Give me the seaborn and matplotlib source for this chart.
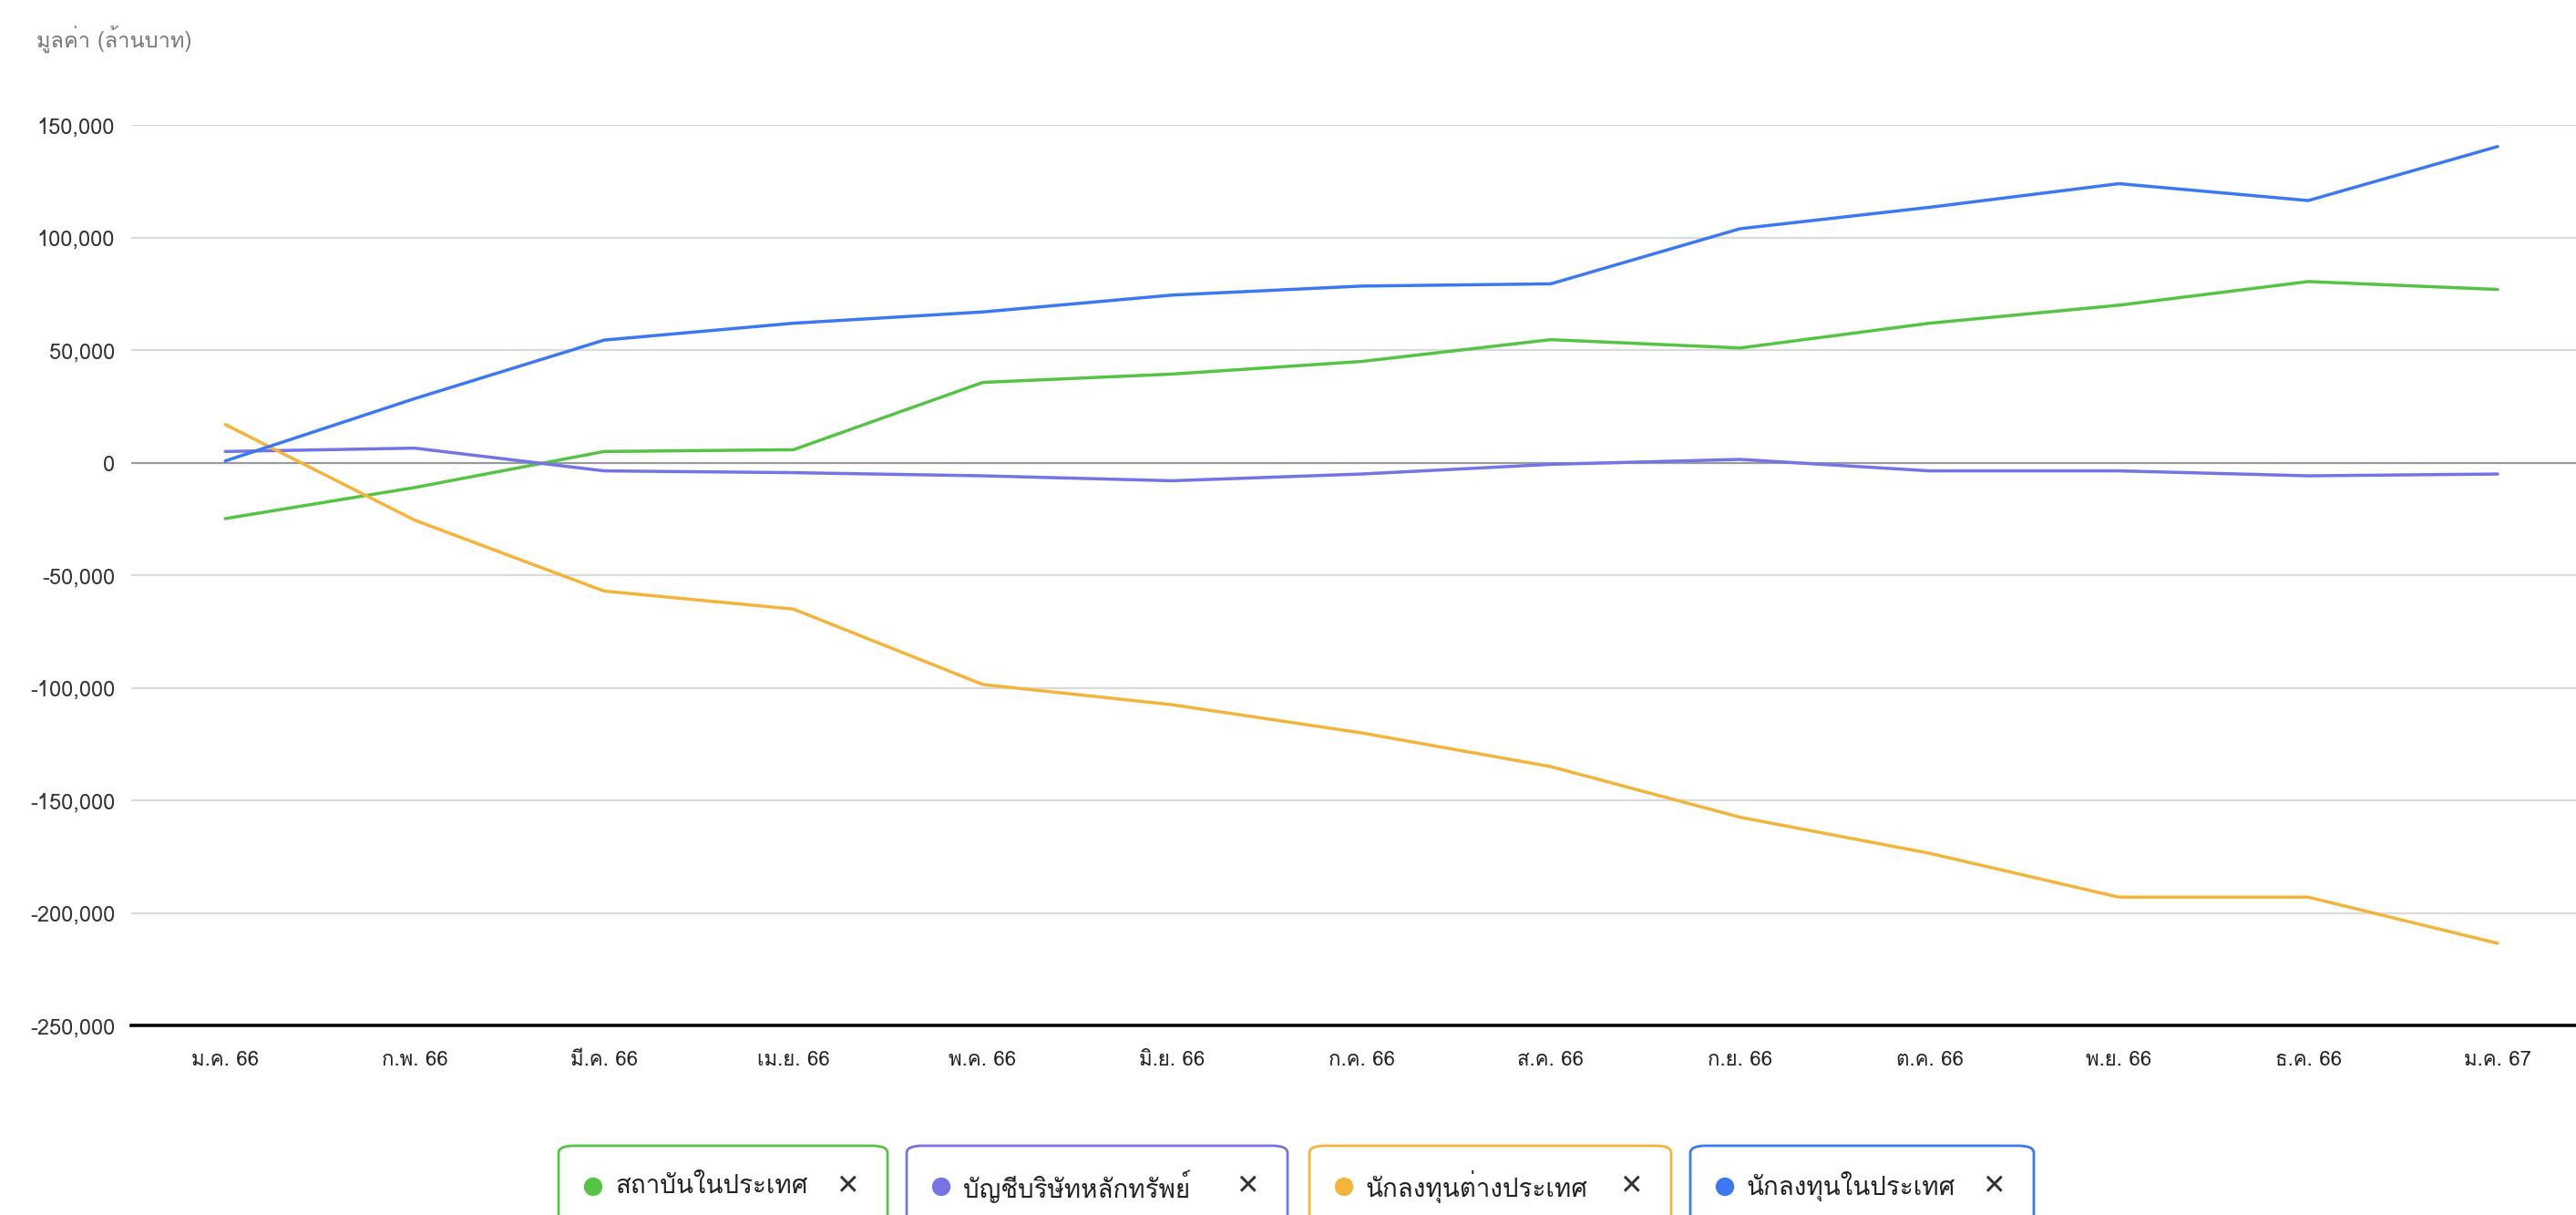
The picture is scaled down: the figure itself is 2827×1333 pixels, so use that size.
import matplotlib
matplotlib.use("Agg")
import pandas as pd
import matplotlib.pyplot as plt
from matplotlib import font_manager
from matplotlib.ft2font import FT2Font
from matplotlib.patches import FancyBboxPatch, Ellipse
from matplotlib.ticker import FuncFormatter
import seaborn as sns

# month labels (Thai Buddhist-era short form)
months = ["ม.ค. 66", "ก.พ. 66", "มี.ค. 66", "เม.ย. 66", "พ.ค. 66", "มิ.ย. 66", "ก.ค. 66",
          "ส.ค. 66", "ก.ย. 66", "ต.ค. 66", "พ.ย. 66", "ธ.ค. 66", "ม.ค. 67"]

# cumulative net buy/sell, million baht
local_institutions = [-24800, -11000, 5000, 5800, 35700, 39400, 45000, 54700, 51000, 62000, 70000, 80500, 77000]
broker_proprietary = [5000, 6500, -3600, -4400, -5800, -8000, -5000, -700, 1500, -3600, -3600, -5800, -5000]
foreign_investors = [17000, -25500, -57000, -65000, -98500, -107500, -120000, -135000, -157500, -173500, -193000, -193000, -213500]
local_investors = [800, 28500, 54500, 62000, 67000, 74500, 78500, 79500, 104000, 113500, 124000, 116500, 140500]

series_names = ["สถาบันในประเทศ", "บัญชีบริษัทหลักทรัพย์", "นักลงทุนต่างประเทศ", "นักลงทุนในประเทศ"]
colors = ["#55C444", "#7474E4", "#F4B43A", "#3B78F2"]
y_title = "มูลค่า (ล้านบาท)"


def find_thai_font():
    for f in font_manager.fontManager.ttflist:
        try:
            if FT2Font(f.fname).get_char_index(0x0E21):
                return f.name
        except Exception:
            pass
    return None


sns.set_style("white")
thai = find_thai_font()
fams = [thai, "DejaVu Sans"] if thai else ["DejaVu Sans"]
plt.rcParams["font.family"] = fams

rows = []
for name, vals in zip(series_names, [local_institutions, broker_proprietary, foreign_investors, local_investors]):
    for i, v in enumerate(vals):
        rows.append({"idx": i, "month": months[i], "value": v, "series": name})
df = pd.DataFrame(rows)

fig = plt.figure(figsize=(28.27, 13.33), dpi=100)
ax = fig.add_axes([0.051, 0.156, 0.949, 0.741])

for y in range(-200000, 150001, 50000):
    ax.axhline(y, color="#9a9a9a" if y == 0 else "#dadada", lw=1.6, zorder=0)

sns.lineplot(data=df, x="idx", y="value", hue="series", hue_order=series_names,
             palette=dict(zip(series_names, colors)), linewidth=2.5, legend=False,
             ax=ax, zorder=3)

ax.set_xlim(-0.496, 12.414)
ax.set_ylim(-250000, 150000)
ax.set_xticks(range(len(months)))
ax.set_xticklabels(months)
ax.set_yticks(range(-250000, 150001, 50000))
ax.yaxis.set_major_formatter(FuncFormatter(lambda v, p: f"{v:,.0f}"))
ax.set_xlabel("")
ax.set_ylabel("")

for s in ["top", "right", "left"]:
    ax.spines[s].set_visible(False)
ax.spines["bottom"].set_color("black")
ax.spines["bottom"].set_linewidth(2.6)
ax.spines["bottom"].set_zorder(4)
ax.tick_params(axis="y", length=0, pad=13, labelsize=17, labelcolor="#333333")
ax.tick_params(axis="x", length=13, width=2.2, color="black", pad=7, labelsize=16, labelcolor="#222222")

fig.text(0.014, 0.968, y_title, fontsize=17, color="#777777", va="center", ha="left")

# legend chips at the bottom
chip_x = [613, 995, 1437, 1855]
chip_w = [361, 418, 397, 377]
W, H = 2827, 1333
for name, col, x0, w in zip(series_names, colors, chip_x, chip_w):
    box = FancyBboxPatch((x0 / W, (H - 1400) / H), w / W, 143 / H,
                         boxstyle="round,pad=0,rounding_size=0.006",
                         transform=fig.transFigure, facecolor="white",
                         edgecolor=col, lw=2, zorder=5)
    fig.patches.append(box)
    fig.patches.append(Ellipse(((x0 + 38) / W, (H - 1302) / H), 19 / W, 19 / H,
                               transform=fig.transFigure, color=col, zorder=6))
    fig.text((x0 + 62) / W, (H - 1302) / H, name, fontsize=20, color="#222222",
             va="center", ha="left", zorder=7)
    fig.text((x0 + w - 44) / W, (H - 1302) / H, "✕", fontsize=22, color="#333333",
             va="center", ha="center", zorder=7)

fig.savefig("out.png", dpi=100, facecolor="white")
